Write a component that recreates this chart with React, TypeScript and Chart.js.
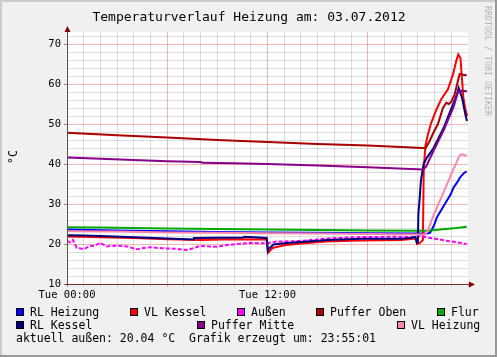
import React, { useEffect, useRef } from 'react';
import { Chart, registerables } from 'chart.js';

Chart.register(...registerables);

const MONO = '"DejaVu Sans Mono", "Liberation Mono", monospace';

const titleText = 'Temperaturverlauf Heizung am: 03.07.2012';
const unitLabel = '°C';
const watermark = 'RRDTOOL / TOBI OETIKER';
const footerText = 'aktuell außen: 20.04 °C  Grafik erzeugt um: 23:55:01';

// x axis: hours of the day, labelled ticks
const xTickLabels: Record<number, string> = { 0: 'Tue 00:00', 12: 'Tue 12:00' };
const yTickLabels = [10, 20, 30, 40, 50, 60, 70];

const seriesNames = ['RL Heizung', 'VL Kessel', 'Außen', 'Puffer Oben', 'Flur', 'RL Kessel', 'Puffer Mitte', 'VL Heizung'];
const seriesColors = ['#0000ff', '#ff0000', '#ff00ff', '#aa0000', '#00aa00', '#000080', '#880088', '#ff88aa'];

const rlHeizungHours = [0, 3, 6, 9, 12, 15, 18, 21, 21.55, 21.73, 21.95, 22.13, 22.4, 22.72, 22.95, 23.12, 23.35, 23.52, 23.75, 23.92];
const rlHeizungTemps = [23.6, 23.4, 23.2, 23.0, 22.9, 22.8, 22.7, 22.6, 22.6, 22.8, 24.5, 26.6, 28.5, 30.75, 32.3, 34.0, 35.4, 36.6, 37.7, 38.2];

const vlKesselHours = [0, 2, 4, 6, 8, 10, 11.95, 12.03, 12.3, 13, 14, 15.5, 17.5, 20, 20.9, 20.95, 21.1, 21.3, 21.35, 21.45, 21.6, 21.8, 22.1, 22.4, 22.8, 23.1, 23.3, 23.42, 23.55, 23.62, 23.72, 23.85, 23.95];
const vlKesselTemps = [21.9, 21.7, 21.5, 21.2, 21.0, 21.2, 21.1, 17.8, 19.0, 19.7, 20.1, 20.6, 20.9, 21.0, 21.4, 20.0, 20.2, 21.0, 38.5, 44.5, 47.4, 50.3, 53.5, 56.2, 58.7, 62.4, 65.8, 67.4, 66.5, 62.4, 56.6, 53.5, 52.0];

const aussenHours = [0, 0.2, 0.35, 0.58, 0.98, 1.38, 1.7, 1.97, 2.38, 3.0, 3.57, 4.17, 4.6, 5.0, 5.5, 5.97, 6.5, 7.16, 7.6, 7.96, 8.5, 8.96, 9.5, 9.95, 10.5, 10.95, 11.5, 11.95, 12.5, 13.94, 15.6, 17.6, 19.5, 20.8, 21.2, 21.6, 22.2, 22.8, 23.4, 23.92];
const aussenTemps = [20.8, 20.4, 21.0, 19.1, 18.7, 19.5, 19.6, 20.3, 19.4, 19.6, 19.4, 18.7, 19.0, 19.2, 19.0, 18.9, 18.8, 18.5, 19.0, 19.5, 19.4, 19.3, 19.7, 19.9, 20.1, 20.3, 20.2, 20.2, 20.6, 20.75, 21.4, 21.75, 21.8, 21.7, 22.0, 21.6, 21.2, 20.75, 20.4, 20.0];

const pufferObenHours = [0, 3, 6, 9, 12, 15, 18, 21.3, 21.45, 21.7, 21.95, 22.2, 22.5, 22.7, 22.85, 23.0, 23.2, 23.35, 23.5, 23.7, 23.92];
const pufferObenTemps = [47.8, 47.2, 46.6, 46.0, 45.5, 45.0, 44.6, 44.0, 43.9, 45.7, 48.0, 50.0, 54.0, 55.3, 55.0, 55.6, 57.4, 60.0, 62.5, 62.3, 62.2];

const flurHours = [0, 2, 6, 12, 18, 21.3, 21.6, 22.5, 23.3, 23.92];
const flurTemps = [24.2, 24.1, 23.9, 23.6, 23.4, 23.3, 23.3, 23.7, 24.0, 24.3];

const rlKesselHours = [0, 1, 2, 4, 6, 7.55, 7.6, 10.55, 10.6, 11.95, 12.02, 12.06, 12.36, 13, 14, 15.6, 17.6, 20, 20.5, 20.84, 20.94, 21.0, 21.03, 21.1, 21.18, 21.34, 21.54, 21.94, 22.54, 22.94, 23.34, 23.44, 23.64, 23.84, 23.94];
const rlKesselTemps = [22.2, 22.1, 22.0, 21.7, 21.4, 21.1, 21.5, 21.6, 21.8, 21.5, 18.3, 18.7, 19.9, 20.2, 20.5, 21.0, 21.3, 21.3, 21.5, 21.75, 20.3, 20.4, 27.5, 31, 35.75, 40, 41.6, 44, 49, 53.25, 57.4, 59, 56.6, 52.4, 50.75];

const pufferMitteHours = [0, 2, 4, 6, 8, 8.1, 10, 12, 15, 18, 21.33, 21.5, 21.93, 22.52, 23.12, 23.42, 23.6, 23.94];
const pufferMitteTemps = [41.6, 41.3, 41.0, 40.7, 40.5, 40.3, 40.2, 40.0, 39.6, 39.2, 38.6, 39.4, 43.25, 48.25, 54.1, 58.25, 58.3, 58.2];

const vlHeizungHours = [0, 3, 6, 9, 12, 15, 18, 21, 21.45, 21.58, 21.88, 22.18, 22.48, 22.78, 23.08, 23.3, 23.48, 23.6, 23.75, 23.92];
const vlHeizungTemps = [23.2, 23.1, 22.9, 22.8, 22.7, 22.6, 22.5, 22.4, 22.4, 23.25, 26.6, 29.5, 32.4, 35.3, 38.25, 40.3, 42.0, 42.4, 42.3, 42.0];

const seriesHours = [rlHeizungHours, vlKesselHours, aussenHours, pufferObenHours, flurHours, rlKesselHours, pufferMitteHours, vlHeizungHours];
const seriesTemps = [rlHeizungTemps, vlKesselTemps, aussenTemps, pufferObenTemps, flurTemps, rlKesselTemps, pufferMitteTemps, vlHeizungTemps];

// legend layout (rrdtool justified rows): [series index, box x]
const legendRows = [
  { y: 308, items: [[0, 16], [1, 130], [2, 237], [3, 316], [4, 437]] },
  { y: 321, items: [[5, 16], [6, 197], [7, 397]] },
];

const MINOR = 'rgba(143,143,143,0.30)';
const MAJOR = 'rgba(222,81,81,0.42)';

const rrdPlugin = {
  id: 'rrdLook',
  beforeDraw(chart: any) {
    const { ctx, chartArea: a, width, height } = chart;
    ctx.save();
    ctx.fillStyle = '#f0f0f0';
    ctx.fillRect(0, 0, width, height);
    ctx.fillStyle = '#cbcbcb';
    ctx.fillRect(0, 0, width, 2);
    ctx.fillRect(0, 0, 2, height);
    ctx.fillStyle = '#999999';
    ctx.fillRect(0, height - 2, width, 2);
    ctx.fillRect(width - 2, 0, 2, height);
    ctx.fillStyle = '#ffffff';
    ctx.fillRect(a.left, a.top, a.right - a.left, a.bottom - a.top);
    ctx.restore();
  },
  afterDraw(chart: any) {
    const { ctx, chartArea: a } = chart;
    ctx.save();
    // axes
    ctx.lineWidth = 1;
    ctx.strokeStyle = '#555555';
    ctx.beginPath();
    ctx.moveTo(a.left + 0.5, a.bottom + 2);
    ctx.lineTo(a.left + 0.5, a.top - 2);
    ctx.stroke();
    ctx.strokeStyle = '#7a3030';
    ctx.beginPath();
    ctx.moveTo(a.left - 2, a.bottom + 0.5);
    ctx.lineTo(a.right + 2, a.bottom + 0.5);
    ctx.stroke();
    // arrows
    ctx.fillStyle = '#800000';
    ctx.beginPath();
    ctx.moveTo(a.left + 0.5, a.top - 6);
    ctx.lineTo(a.left - 2.5, a.top);
    ctx.lineTo(a.left + 3.5, a.top);
    ctx.closePath();
    ctx.fill();
    ctx.beginPath();
    ctx.moveTo(a.right + 7, a.bottom + 0.5);
    ctx.lineTo(a.right + 1, a.bottom - 2.5);
    ctx.lineTo(a.right + 1, a.bottom + 3.5);
    ctx.closePath();
    ctx.fill();

    // title
    ctx.fillStyle = '#000000';
    ctx.font = `13px ${MONO}`;
    ctx.textAlign = 'center';
    ctx.textBaseline = 'alphabetic';
    ctx.fillText(titleText, 249, 21);

    // unit label
    ctx.save();
    ctx.font = `11.5px ${MONO}`;
    ctx.translate(14, 157);
    ctx.rotate(-Math.PI / 2);
    ctx.textAlign = 'center';
    ctx.textBaseline = 'middle';
    ctx.fillText(unitLabel, 0, 0);
    ctx.restore();

    // watermark
    ctx.save();
    ctx.font = `8.3px ${MONO}`;
    ctx.fillStyle = '#b4b4b4';
    ctx.translate(487.5, 6);
    ctx.rotate(Math.PI / 2);
    ctx.textAlign = 'left';
    ctx.textBaseline = 'middle';
    ctx.fillText(watermark, 0, 0);
    ctx.restore();

    // legend
    ctx.font = `11.5px ${MONO}`;
    ctx.textAlign = 'left';
    ctx.textBaseline = 'alphabetic';
    ctx.lineWidth = 1;
    for (const row of legendRows) {
      for (const [idx, bx] of row.items) {
        ctx.fillStyle = seriesColors[idx];
        ctx.fillRect(bx, row.y, 8, 8);
        ctx.strokeStyle = '#000000';
        ctx.strokeRect(bx + 0.5, row.y + 0.5, 7, 7);
        ctx.fillStyle = '#000000';
        ctx.fillText(seriesNames[idx], bx + 14, row.y + 8);
      }
    }
    ctx.fillText(footerText, 16, 342);
    ctx.restore();
  },
};

export default function App() {
  const ref = useRef<HTMLCanvasElement>(null);
  useEffect(() => {
    const canvas = ref.current;
    if (!canvas) return;
    const datasets = seriesNames.map((name, i) => ({
      label: name,
      data: seriesHours[i].map((h, k) => ({ x: h, y: seriesTemps[i][k] })),
      borderColor: seriesColors[i],
      backgroundColor: seriesColors[i],
      borderWidth: 2,
      borderDash: name === 'Außen' ? [4, 2] : [],
      pointRadius: 0,
      tension: 0,
      fill: false,
      order: -i,
    }));
    const chart = new Chart(canvas, {
      type: 'line',
      data: { datasets },
      options: {
        animation: false,
        responsive: false,
        devicePixelRatio: 1,
        events: [],
        layout: { padding: { left: 0, top: 32, right: 29, bottom: 0 } },
        plugins: {
          legend: { display: false },
          title: { display: false },
          tooltip: { enabled: false },
        },
        scales: {
          x: {
            type: 'linear',
            min: 0,
            max: 24,
            afterFit: (s: any) => { s.height = 73; },
            border: { display: false },
            grid: {
              lineWidth: 1,
              tickLength: 3,
              color: (c: any) => (c.tick.value === 24 ? 'rgba(0,0,0,0)' : c.tick.value % 6 === 0 ? MAJOR : MINOR),
              tickColor: (c: any) => (c.tick.value % 6 === 0 ? MAJOR : MINOR),
            },
            ticks: {
              stepSize: 1,
              autoSkip: false,
              maxRotation: 0,
              minRotation: 0,
              padding: 2,
              color: '#000000',
              font: { family: MONO, size: 10.5 },
              callback: (v: any) => xTickLabels[v as number] ?? '',
            },
          },
          y: {
            type: 'linear',
            min: 10,
            max: 73,
            afterFit: (s: any) => { s.width = 67; },
            border: { display: false },
            grid: {
              lineWidth: 1,
              tickLength: 3,
              color: (c: any) => (c.tick.value % 10 === 0 ? MAJOR : MINOR),
              tickColor: (c: any) => (c.tick.value % 10 === 0 ? '#888888' : 'rgba(0,0,0,0)'),
            },
            ticks: {
              stepSize: 2,
              includeBounds: false,
              autoSkip: false,
              padding: 3,
              color: '#000000',
              font: { family: MONO, size: 10.5 },
              callback: (v: any) => (yTickLabels.includes(v as number) ? String(v) : ''),
            },
          },
        },
      },
      plugins: [rrdPlugin],
    } as any);
    return () => chart.destroy();
  }, []);
  return (
    <div style={{ position: 'absolute', left: 0, top: 0, width: 497, height: 357 }}>
      <canvas ref={ref} width={497} height={357} style={{ display: 'block' }} />
    </div>
  );
}
